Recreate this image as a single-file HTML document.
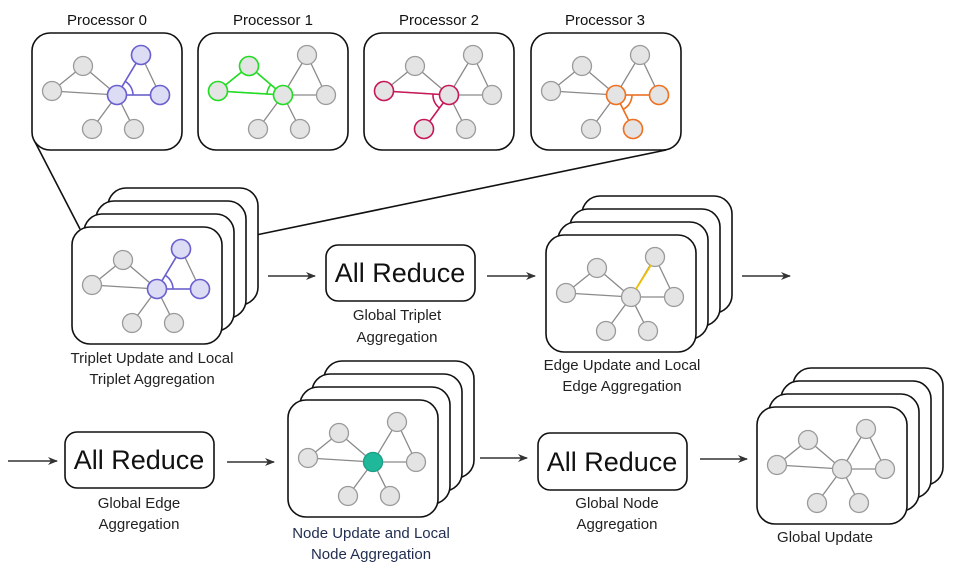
<!DOCTYPE html>
<html><head><meta charset="utf-8"><style>
html,body{margin:0;padding:0;background:#fff;}
svg{display:block;font-family:"Liberation Sans",Arial,sans-serif;}
</style></head><body>
<svg width="958" height="572" viewBox="0 0 958 572" xmlns="http://www.w3.org/2000/svg">
<defs>
<g id="edges" stroke="#8a8a8a" stroke-width="1.3" fill="none">
<line x1="51" y1="33" x2="20" y2="58"/><line x1="51" y1="33" x2="85" y2="62"/><line x1="20" y1="58" x2="85" y2="62"/>
<line x1="85" y1="62" x2="109" y2="22"/><line x1="109" y1="22" x2="128" y2="62"/><line x1="85" y1="62" x2="128" y2="62"/>
<line x1="85" y1="62" x2="60" y2="96"/><line x1="85" y1="62" x2="102" y2="96"/>
</g>
<g id="nodes" fill="#e4e4e4" stroke="#9a9a9a" stroke-width="1.3">
<circle cx="51" cy="33" r="9.5"/><circle cx="20" cy="58" r="9.5"/><circle cx="85" cy="62" r="9.5"/>
<circle cx="109" cy="22" r="9.5"/><circle cx="128" cy="62" r="9.5"/><circle cx="60" cy="96" r="9.5"/><circle cx="102" cy="96" r="9.5"/>
</g>
<g id="graph"><use href="#edges"/><use href="#nodes"/></g>
<rect id="card" x="0" y="0" width="150" height="117" rx="18" fill="#fff" stroke="#111" stroke-width="1.6"/>
<g id="stack">
<use href="#card" x="36" y="-39"/><use href="#card" x="24" y="-26"/><use href="#card" x="12" y="-13"/><use href="#card"/>
</g>
<marker id="ah" markerWidth="10" markerHeight="8" refX="9" refY="4" orient="auto" markerUnits="userSpaceOnUse">
<path d="M0,0 L10,4 L0,8 L3,4 z" fill="#333"/></marker>
</defs>

<!-- connector lines -->
<line x1="34" y1="140" x2="80" y2="229" stroke="#111" stroke-width="1.6"/>
<line x1="666" y1="150" x2="256" y2="235" stroke="#111" stroke-width="1.6"/>

<!-- Processors -->
<g font-size="15" fill="#111" text-anchor="middle">
<text x="107" y="25">Processor 0</text><text x="273" y="25">Processor 1</text>
<text x="439" y="25">Processor 2</text><text x="605" y="25">Processor 3</text>
</g>

<g transform="translate(32,33)">
<use href="#card"/><use href="#graph"/>
<g stroke="#6a5fd0" stroke-width="1.6" fill="#dcdcf4">
<line x1="85" y1="62" x2="109" y2="22"/><line x1="85" y1="62" x2="128" y2="62"/>
<path d="M93.2,48.3 A16,16 0 0 1 101,62" fill="none"/>
<circle cx="85" cy="62" r="9.5"/><circle cx="109" cy="22" r="9.5"/><circle cx="128" cy="62" r="9.5"/>
</g></g>

<g transform="translate(198,33)">
<use href="#card"/><use href="#graph"/>
<g stroke="#22dd22" stroke-width="1.6" fill="#e4e4e4">
<line x1="51" y1="33" x2="20" y2="58"/><line x1="51" y1="33" x2="85" y2="62"/><line x1="20" y1="58" x2="85" y2="62"/>
<path d="M72.8,51.6 A16,16 0 0 0 69,61" fill="none"/>
<circle cx="51" cy="33" r="9.5"/><circle cx="20" cy="58" r="9.5"/><circle cx="85" cy="62" r="9.5"/>
</g></g>

<g transform="translate(364,33)">
<use href="#card"/><use href="#graph"/>
<g stroke="#c8185a" stroke-width="1.6" fill="#e4e4e4">
<line x1="20" y1="58" x2="85" y2="62"/><line x1="85" y1="62" x2="60" y2="96"/>
<path d="M69,61 A16,16 0 0 0 75.5,75" fill="none"/>
<circle cx="20" cy="58" r="9.5"/><circle cx="85" cy="62" r="9.5"/><circle cx="60" cy="96" r="9.5"/>
</g></g>

<g transform="translate(531,33)">
<use href="#card"/><use href="#graph"/>
<g stroke="#f07020" stroke-width="1.6" fill="#e4e4e4">
<line x1="85" y1="62" x2="128" y2="62"/><line x1="85" y1="62" x2="102" y2="96"/>
<path d="M101,62 A16,16 0 0 1 92.2,76.3" fill="none"/>
<circle cx="85" cy="62" r="9.5"/><circle cx="128" cy="62" r="9.5"/><circle cx="102" cy="96" r="9.5"/>
</g></g>

<!-- Triplet stack -->
<g transform="translate(72,227)">
<use href="#stack"/><use href="#graph"/>
<g stroke="#6a5fd0" stroke-width="1.6" fill="#dcdcf4">
<line x1="85" y1="62" x2="109" y2="22"/><line x1="85" y1="62" x2="128" y2="62"/>
<path d="M93.2,48.3 A16,16 0 0 1 101,62" fill="none"/>
<circle cx="85" cy="62" r="9.5"/><circle cx="109" cy="22" r="9.5"/><circle cx="128" cy="62" r="9.5"/>
</g></g>

<!-- Edge stack -->
<g transform="translate(546,235)">
<use href="#stack"/><use href="#graph"/>
<line x1="90" y1="54" x2="105" y2="30" stroke="#f0c000" stroke-width="1.8"/>
</g>

<!-- Node stack -->
<g transform="translate(288,400)">
<use href="#stack"/><use href="#graph"/>
<circle cx="85" cy="62" r="9.5" fill="#1fb89a" stroke="#18a088" stroke-width="1.3"/>
</g>

<!-- Global update stack -->
<g transform="translate(757,407)">
<use href="#stack"/><use href="#graph"/>
</g>

<!-- All Reduce boxes -->
<g fill="#fff" stroke="#111" stroke-width="1.6">
<rect x="326" y="245" width="149" height="56" rx="12"/>
<rect x="65" y="432" width="149" height="56" rx="12"/>
<rect x="538" y="433" width="149" height="57" rx="12"/>
</g>
<g font-size="27" fill="#111" text-anchor="middle">
<text x="400" y="282">All Reduce</text>
<text x="139" y="469">All Reduce</text>
<text x="612" y="471">All Reduce</text>
</g>

<!-- Arrows -->
<g stroke="#333" stroke-width="1.6" marker-end="url(#ah)">
<line x1="268" y1="276" x2="315" y2="276"/>
<line x1="487" y1="276" x2="535" y2="276"/>
<line x1="742" y1="276" x2="790" y2="276"/>
<line x1="8" y1="461" x2="57" y2="461"/>
<line x1="227" y1="462" x2="274" y2="462"/>
<line x1="480" y1="458" x2="527" y2="458"/>
<line x1="700" y1="459" x2="747" y2="459"/>
</g>

<!-- Labels -->
<g font-size="15" fill="#222" text-anchor="middle">
<text x="152" y="363">Triplet Update and Local</text>
<text x="152" y="384">Triplet Aggregation</text>
<text x="397" y="320">Global Triplet</text>
<text x="397" y="342">Aggregation</text>
<text x="622" y="370">Edge Update and Local</text>
<text x="622" y="391">Edge Aggregation</text>
<text x="139" y="508">Global Edge</text>
<text x="139" y="529">Aggregation</text>
<text x="617" y="508">Global Node</text>
<text x="617" y="529">Aggregation</text>
<text x="825" y="542">Global Update</text>
</g>
<g font-size="15" fill="#1f2d50" text-anchor="middle">
<text x="371" y="538">Node Update and Local</text>
<text x="371" y="559">Node Aggregation</text>
</g>
</svg>
</body></html>
